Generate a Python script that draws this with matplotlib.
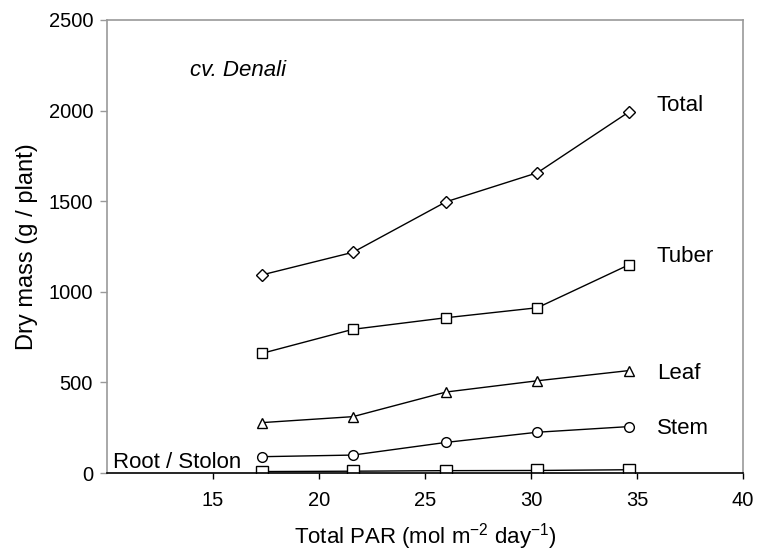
import matplotlib
matplotlib.use("Agg")
import matplotlib.pyplot as plt

plt.rcParams["font.family"] = ["Liberation Sans", "DejaVu Sans"]

# Total PAR (mol m-2 day-1) for the five light treatments
par = [17.3, 21.6, 26.0, 30.3, 34.6]

# dry mass per organ (g / plant)
total = [1093, 1218, 1497, 1657, 1991]
tuber = [660, 793, 857, 912, 1148]
leaf = [278, 311, 447, 509, 565]
stem = [90, 99, 169, 225, 256]
root_stolon = [8, 10, 13, 14, 18]

x_ticks = [15, 20, 25, 30, 35, 40]
y_ticks = [0, 500, 1000, 1500, 2000, 2500]

fig = plt.figure(figsize=(7.6, 5.54), dpi=100)
ax = fig.add_axes([0.1408, 0.1462, 0.8368, 0.8177])

style = dict(color="black", lw=1.0, mfc="white", mec="black", mew=1.0)
ax.plot(par, total, marker="D", ms=6.5, **style)
ax.plot(par, tuber, marker="s", ms=6.5, **style)
ax.plot(par, leaf, marker="^", ms=7.5, **style)
ax.plot(par, stem, marker="o", ms=7, **style)
ax.plot(par, root_stolon, marker="s", ms=8, **style)

# series names sit just right of the last point of each line
lab = dict(fontsize=16, va="baseline", ha="left")
ax.text(35.94, 2000, "Total", **lab)
ax.text(35.94, 1166, "Tuber", **lab)
ax.text(35.94, 517, "Leaf", **lab)
ax.text(35.94, 213, "Stem", **lab)
ax.text(10.3, 29, "Root / Stolon", **lab)
ax.text(13.92, 2191, "cv. Denali", fontsize=16, style="italic", va="baseline", ha="left")

ax.set_xlim(10, 40)
ax.set_ylim(0, 2500)
ax.set_xticks(x_ticks)
ax.set_yticks(y_ticks)
ax.tick_params(axis="x", direction="out", length=4, width=1, colors="black", labelsize=14.5, pad=9)
ax.tick_params(axis="y", direction="out", length=5, width=1, color="#999999", labelcolor="black", labelsize=14.5, pad=5)

for side in ("left", "top", "right"):
    ax.spines[side].set_color("#999999")
    ax.spines[side].set_linewidth(1.2)
ax.spines["bottom"].set_color("black")
ax.spines["bottom"].set_linewidth(1.2)

ax.set_xlabel("Total PAR (mol m$^{\\mathregular{-2}}$ day$^{\\mathregular{-1}}$)", fontsize=16, labelpad=8)
ax.set_ylabel("Dry mass (g / plant)", fontsize=17, labelpad=8)

fig.savefig("out.png", dpi=100)
